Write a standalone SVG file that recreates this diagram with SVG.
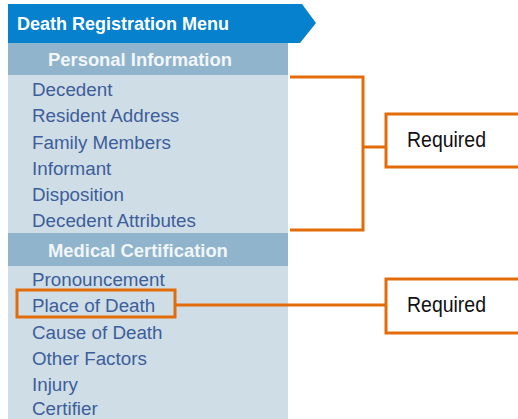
<svg xmlns="http://www.w3.org/2000/svg" width="518" height="419" viewBox="0 0 518 419">
<style>
.item{font-family:"Liberation Sans",Arial,sans-serif;font-size:18.8px;fill:#3d5e9a}
.sec{font-family:"Liberation Sans",Arial,sans-serif;font-size:18.4px;font-weight:bold;fill:#f2f6f9}
.req{font-family:"Liberation Sans Narrow","Liberation Sans",Arial,sans-serif;font-size:22px;fill:#111}
.or{fill:none;stroke:#e36c0a;stroke-width:3}
</style>
<rect width="518" height="419" fill="#fff"/>
<g id="menu">
<rect x="8" y="43" width="280" height="376" fill="#cfdde6"/>
<path d="M8 4 H302 L316 23 L300 43 H8 Z" fill="#0581cd"/>
<text x="17" y="30" font-family="'Liberation Sans',Arial,sans-serif" font-size="18px" font-weight="bold" fill="#fff">Death Registration Menu</text>
<rect x="8" y="43" width="280" height="32" fill="#8fb4cc"/>
<text class="sec" x="48" y="66">Personal Information</text>
<text class="item" x="32" y="96">Decedent</text>
<text class="item" x="32" y="122">Resident Address</text>
<text class="item" x="32" y="149">Family Members</text>
<text class="item" x="32" y="175">Informant</text>
<text class="item" x="32" y="201">Disposition</text>
<text class="item" x="32" y="227">Decedent Attributes</text>
<rect x="8" y="233" width="280" height="33" fill="#8fb4cc"/>
<text class="sec" x="48" y="257">Medical Certification</text>
<text class="item" x="32" y="286">Pronouncement</text>
<text class="item" x="32" y="312">Place of Death</text>
<text class="item" x="32" y="339">Cause of Death</text>
<text class="item" x="32" y="365">Other Factors</text>
<text class="item" x="32" y="391">Injury</text>
<text class="item" x="32" y="415">Certifier</text>
</g>
<g id="highlight">
<rect class="or" x="17" y="290" width="158" height="27"/>
</g>
<g id="required1">
<rect class="or" x="386" y="114" width="140" height="53"/>
<text class="req" x="407" y="147" textLength="79" lengthAdjust="spacingAndGlyphs">Required</text>
</g>
<g id="required2">
<rect class="or" x="386" y="279" width="140" height="54"/>
<text class="req" x="407" y="312" textLength="79" lengthAdjust="spacingAndGlyphs">Required</text>
</g>
<g id="connectors">
<path class="or" d="M290 77 H363 V230 H290 M363 147 H386"/>
<path class="or" d="M175 305 H386"/>
</g>
</svg>
